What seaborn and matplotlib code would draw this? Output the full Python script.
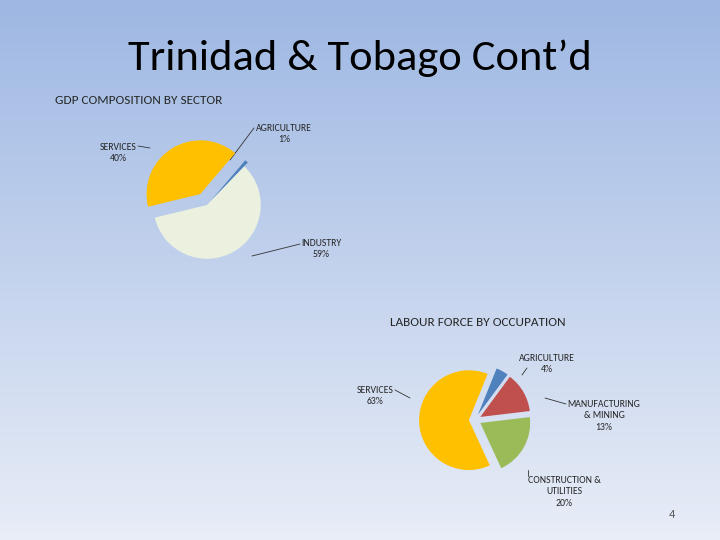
import matplotlib.pyplot as plt
import numpy as np
import seaborn as sns

sns.set_style("white")
plt.rcParams['font.family'] = ['Carlito', 'Liberation Sans', 'DejaVu Sans']

# GDP composition
gdp_labels = ['AGRICULTURE', 'SERVICES', 'INDUSTRY']
gdp_values = [1, 40, 59]
gdp_colors = ['#4f81bd', '#ffc000', '#ebf1de']

# Labour force
lab_labels = ['AGRICULTURE', 'MANUFACTURING\n& MINING', 'CONSTRUCTION &\nUTILITIES', 'SERVICES']
lab_values = [4, 13, 20, 63]
lab_colors = ['#4f81bd', '#c0504d', '#9bbb59', '#ffc000']

W, H = 720, 540
fig = plt.figure(figsize=(W / 100, H / 100), dpi=100)

# background gradient + text layer in pixel coordinates
bg = fig.add_axes([0, 0, 1, 1])
grad = np.linspace(0, 1, 256)[:, None]
top = np.array([0.62, 0.72, 0.89])
bot = np.array([0.91, 0.93, 0.97])
img = top + (bot - top) * grad[..., None]
bg.imshow(img, extent=[0, W, H, 0], aspect='auto')
bg.set_xlim(0, W)
bg.set_ylim(H, 0)
bg.axis('off')

bg.text(360, 58, 'Trinidad & Tobago Cont\u2019d', ha='center', va='center', fontsize=32, color='black')
bg.text(55, 100, 'GDP COMPOSITION BY SECTOR', ha='left', va='center', fontsize=9.5)
bg.text(478, 322, 'LABOUR FORCE BY OCCUPATION', ha='center', va='center', fontsize=9.5)
bg.text(672, 515, '4', ha='center', va='center', fontsize=9, color='#555555')


def px_axes(cx, cy, r):
    return fig.add_axes([(cx - r) / W, 1 - (cy + r) / H, 2 * r / W, 2 * r / H])


# GDP pie
ax1 = px_axes(207, 205, 80)
ax1.pie(gdp_values, colors=gdp_colors, startangle=46, counterclock=True,
        explode=[0.08, 0.2, 0.0], radius=0.84,
        wedgeprops=dict(edgecolor='none'))
ax1.set_aspect('equal')

# Labour pie
ax2 = px_axes(475, 420, 76)
ax2.pie(lab_values, colors=lab_colors, startangle=68, counterclock=False,
        explode=[0.1, 0.1, 0.1, 0.1], radius=0.82,
        wedgeprops=dict(edgecolor='none'))
ax2.set_aspect('equal')

fs = 7
def label(txt, tx, ty, line):
    bg.text(tx, ty, txt, ha='center', va='center', fontsize=fs, linespacing=1.3)
    bg.plot(line[0], line[1], color='#333333', lw=0.6)

label('SERVICES\n40%', 118, 153, ([138, 150], [146, 148]))
label('AGRICULTURE\n1%', 284, 134, ([254, 230], [128, 160]))
label('INDUSTRY\n59%', 321, 249, ([300, 252], [244, 256]))
label('SERVICES\n63%', 375, 396, ([395, 410], [390, 398]))
label('AGRICULTURE\n4%', 547, 364, ([527, 522], [368, 375]))
label('MANUFACTURING\n& MINING\n13%', 604, 416, ([566, 545], [404, 398]))
label('CONSTRUCTION &\nUTILITIES\n20%', 564, 492, ([528, 528], [470, 476]))

fig.savefig('out.png', dpi=100)
